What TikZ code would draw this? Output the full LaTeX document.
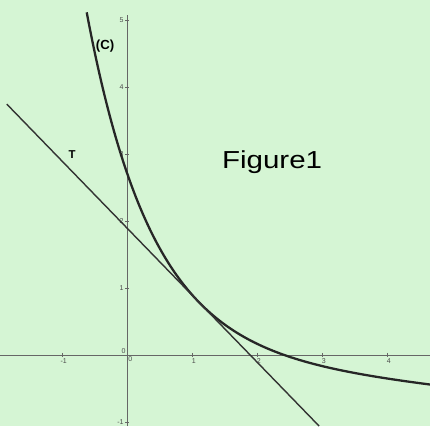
\documentclass[tikz,border=0pt]{standalone}
\usepackage{fontspec}
\setmainfont{Liberation Sans}
\definecolor{paper}{RGB}{213,245,212}

\begin{document}
\begin{tikzpicture}[x=1.3cm,y=1.34cm,
    axis/.style={draw=black!60, line width=0.45pt},
    ticklabel/.style={font=\fontsize{4}{4}\selectfont, text=black!70, inner sep=0.6pt},
    curve/.style={draw=black!85, line width=1.3pt},
    tangent/.style={draw=black!80, line width=0.8pt}]

  % Background
  \fill[paper] (-1.954,-1.06) rectangle (4.662,5.299);
  \useasboundingbox (-1.954,-1.06) rectangle (4.662,5.299);

  % Draw the axes
  \coordinate (xa) at (-1.954,0);
  \coordinate (xb) at (4.662,0);
  \coordinate (ya) at (0,-1.06);
  \coordinate (yb) at (0,5.07);
  \draw[axis] (xa) -- (xb);
  \draw[axis] (ya) -- (yb);

  % Draw the ticks
  \foreach \x/\n in {-1/a,1/b,2/c,3/d,4/e}
    \draw[axis] (\x,0.03) -- (\x,-0.03) node[ticklabel, below, xshift=1pt] (xt\n) {\x};
  \foreach \y/\n in {-1/a,1/b,2/c,3/d,4/e,5/f}
    \draw[axis] (0.03,\y) -- (-0.03,\y) node[ticklabel, left] (yt\n) {\y};
  \node[ticklabel, below right] (xo) at (0,0) {0};
  \node[ticklabel, above left] (yo) at (0,0) {0};

  % Draw the curve (C)
  \draw[curve, domain=-0.62:4.662, samples=120, smooth]
    plot (\x, {exp(1-\x)-0.1*\x});

  % Draw the tangent T
  \coordinate (ta) at (-1.85,3.745);
  \coordinate (tb) at (2.955,-1.06);
  \draw[tangent] (ta) -- (tb);

  \node[font=\fontsize{7.5}{7.5}\selectfont\bfseries] (labC) at (-0.338,4.61) {(C)};
  \node[font=\fontsize{6.5}{6.5}\selectfont\bfseries] (labT) at (-0.846,2.985) {T};
  \node[anchor=base west, inner sep=0pt, font=\fontsize{14}{14}\selectfont] (title)
    at (1.457,2.787) {\scalebox{1.2}[1]{Figure1}};
\end{tikzpicture}
\end{document}
